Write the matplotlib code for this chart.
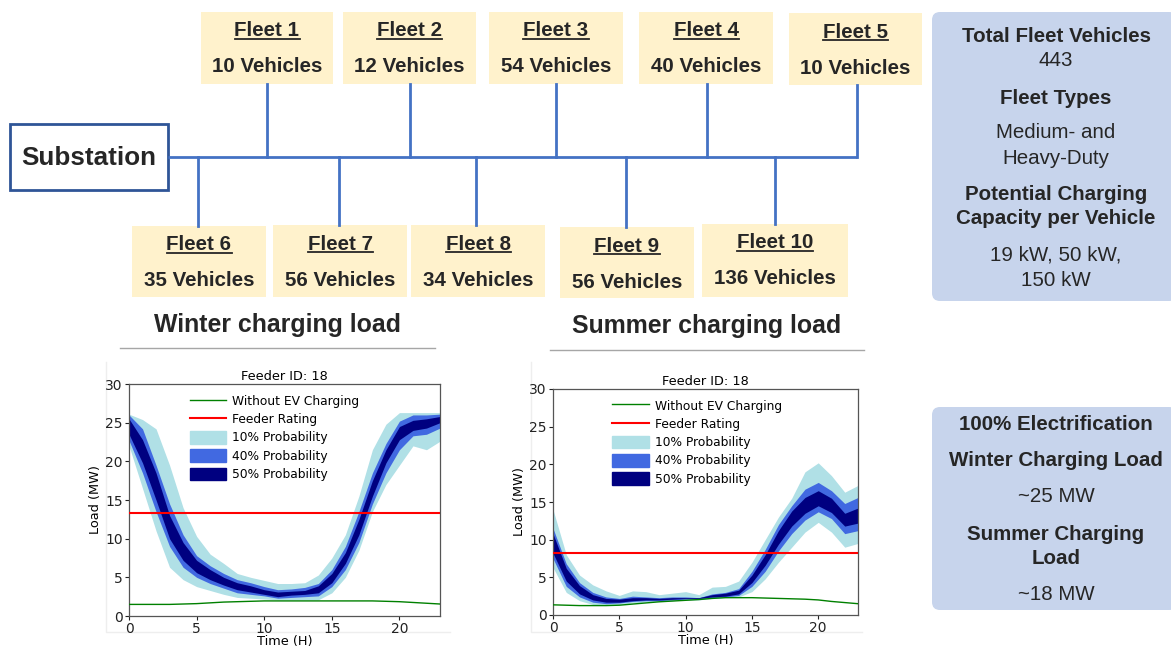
import numpy as np
import matplotlib
matplotlib.use("Agg")
import matplotlib.pyplot as plt
from matplotlib.patches import Rectangle, FancyBboxPatch, Patch
from matplotlib.lines import Line2D

# ---- data ----
fleet_names = ["Fleet 1", "Fleet 2", "Fleet 3", "Fleet 4", "Fleet 5",
               "Fleet 6", "Fleet 7", "Fleet 8", "Fleet 9", "Fleet 10"]
fleet_vehicles = [10, 12, 54, 40, 10, 35, 56, 34, 56, 136]

info_top = [("Total Fleet Vehicles", True), ("443", False), ("Fleet Types", True),
            ("Medium- and", False), ("Heavy-Duty", False), ("Potential Charging", True),
            ("Capacity per Vehicle", True), ("19 kW, 50 kW,", False), ("150 kW", False)]
info_bottom = [("100% Electrification", True), ("Winter Charging Load", True),
               ("~25 MW", False), ("Summer Charging", True), ("Load", True), ("~18 MW", False)]

hours = np.arange(24)

winter_base = [1.5, 1.5, 1.5, 1.5, 1.55, 1.6, 1.7, 1.8, 1.85, 1.9, 1.95, 1.95,
               1.95, 1.95, 1.95, 1.95, 1.95, 1.95, 1.95, 1.9, 1.85, 1.75, 1.65, 1.55]
winter_rating = 13.3
winter_p10_hi = [26.1, 25.4, 24.2, 19.5, 14.0, 10.3, 8.0, 6.8, 5.5, 5.0, 4.6, 4.2,
                 4.2, 4.3, 5.3, 7.5, 10.5, 15.5, 21.5, 24.8, 26.3, 26.3, 26.3, 26.3]
winter_p10_lo = [22.0, 16.5, 11.0, 6.3, 4.7, 3.8, 3.3, 2.8, 2.4, 2.3, 2.2, 2.1,
                 2.1, 2.1, 2.1, 3.0, 5.0, 8.5, 13.5, 17.0, 19.5, 22.0, 21.5, 22.6]
winter_p40_hi = [26.0, 24.2, 19.5, 14.5, 10.5, 7.8, 6.5, 5.5, 4.7, 4.3, 3.8, 3.4,
                 3.5, 3.7, 4.2, 6.0, 9.0, 13.5, 18.5, 22.3, 25.2, 26.0, 26.0, 26.1]
winter_p40_lo = [22.7, 18.5, 13.5, 9.0, 6.3, 5.0, 4.2, 3.6, 3.0, 2.8, 2.6, 2.3,
                 2.4, 2.5, 2.6, 3.8, 6.0, 9.5, 14.5, 18.5, 21.5, 23.3, 23.5, 24.3]
winter_p50_hi = [25.5, 22.8, 18.5, 13.0, 9.5, 7.2, 6.0, 5.0, 4.3, 3.9, 3.4, 3.1,
                 3.2, 3.3, 3.9, 5.5, 8.2, 12.5, 17.5, 21.5, 24.5, 25.3, 25.5, 25.8]
winter_p50_lo = [23.5, 19.8, 15.0, 10.0, 7.2, 5.6, 4.7, 4.0, 3.4, 3.1, 2.8, 2.5,
                 2.7, 2.8, 3.0, 4.3, 6.8, 10.5, 15.5, 19.8, 22.8, 24.0, 24.3, 25.0]

summer_base = [1.35, 1.3, 1.25, 1.25, 1.25, 1.3, 1.45, 1.6, 1.75, 1.85, 1.95, 2.05,
               2.2, 2.3, 2.3, 2.3, 2.25, 2.2, 2.15, 2.1, 2.0, 1.8, 1.65, 1.5]
summer_rating = 8.2
summer_p10_hi = [14.0, 8.0, 5.3, 4.0, 3.2, 2.6, 3.2, 3.1, 2.7, 2.9, 3.1, 2.7,
                 3.7, 3.8, 4.5, 7.0, 10.0, 13.0, 15.5, 19.0, 20.2, 18.5, 16.3, 17.2]
summer_p10_lo = [6.3, 3.0, 1.9, 1.4, 1.3, 1.4, 1.6, 1.7, 1.8, 1.9, 2.0, 2.0,
                 2.2, 2.3, 2.4, 3.1, 4.8, 7.0, 9.0, 11.0, 12.3, 11.0, 9.0, 9.5]
summer_p40_hi = [11.5, 6.8, 4.3, 3.0, 2.4, 2.2, 2.5, 2.4, 2.3, 2.4, 2.4, 2.3,
                 2.8, 3.0, 3.5, 5.8, 8.7, 12.0, 14.5, 16.7, 17.6, 16.5, 14.8, 15.6]
summer_p40_lo = [7.5, 3.8, 2.4, 1.7, 1.5, 1.6, 1.8, 1.9, 1.9, 2.0, 2.1, 2.1,
                 2.3, 2.4, 2.6, 3.8, 5.8, 8.5, 10.8, 12.6, 13.7, 12.8, 10.8, 11.2]
summer_p50_hi = [10.8, 6.2, 3.9, 2.7, 2.2, 2.1, 2.3, 2.3, 2.2, 2.3, 2.3, 2.3,
                 2.7, 2.9, 3.3, 5.3, 8.0, 11.2, 13.8, 15.6, 16.5, 15.5, 13.5, 14.2]
summer_p50_lo = [8.2, 4.5, 2.8, 2.0, 1.7, 1.7, 1.9, 2.0, 2.0, 2.1, 2.2, 2.2,
                 2.4, 2.5, 2.8, 4.3, 6.6, 9.4, 11.8, 13.5, 14.5, 13.6, 11.8, 12.2]

# ---- layout (pixels) ----
W, H = 1171, 652
fleet_boxes = [(201, 12, 333, 84), (343, 12, 476, 84), (489, 12, 623, 84),
               (639, 12, 773, 84), (789, 13, 922, 85),
               (132, 226, 266, 297), (273, 225, 407, 297), (411, 225, 545, 297),
               (560, 227, 694, 298), (702, 224, 848, 297)]
fleet_conn = [267, 410, 556, 707, 857, 198, 339, 476, 626, 775]
bus_y = 157
box_col = "#FFF2CC"
bus_col = "#4472C4"
panel_col = "#C7D4EC"
txt_col = "#262626"
diag_font = "Liberation Sans"

fig = plt.figure(figsize=(W / 100, H / 100), dpi=100)
ax0 = fig.add_axes([0, 0, 1, 1])
ax0.set_xlim(0, W)
ax0.set_ylim(H, 0)
ax0.axis("off")

# substation
ax0.add_patch(Rectangle((10, 124), 158, 66, facecolor="white", edgecolor="#2F5597", lw=2))
ax0.text(89, 158, "Substation", fontsize=18.7, fontweight="bold", color=txt_col,
         family=diag_font, ha="center", va="center")

# bus and connectors
ax0.plot([168, 857], [bus_y, bus_y], color=bus_col, lw=2, solid_capstyle="butt")
titles = []
for i, (x0, y0, x1, y1) in enumerate(fleet_boxes):
    cx = fleet_conn[i]
    if i < 5:
        ax0.plot([cx, cx], [y1, bus_y], color=bus_col, lw=2)
    else:
        ax0.plot([cx, cx], [bus_y, y0], color=bus_col, lw=2)
    ax0.add_patch(Rectangle((x0, y0), x1 - x0, y1 - y0, facecolor=box_col, edgecolor="none"))
    mx = (x0 + x1) / 2
    t = ax0.text(mx, y0 + 19, fleet_names[i], fontsize=14.8, fontweight="bold", color=txt_col,
                 family=diag_font, ha="center", va="center")
    titles.append(t)
    ax0.text(mx, y0 + 55, "%d Vehicles" % fleet_vehicles[i], fontsize=14.8, fontweight="bold",
             color=txt_col, family=diag_font, ha="center", va="center")

# info panels
ax0.add_patch(FancyBboxPatch((932, 12), 245, 289, boxstyle="round,pad=0,rounding_size=8",
                             facecolor=panel_col, edgecolor="none"))
ax0.add_patch(FancyBboxPatch((932, 407), 245, 203, boxstyle="round,pad=0,rounding_size=8",
                             facecolor=panel_col, edgecolor="none"))
for (s, b), y in zip(info_top, [36, 60, 98, 133, 158, 194, 219, 255, 280]):
    ax0.text(1056, y, s, fontsize=14.8, fontweight="bold" if b else "normal", color=txt_col,
             family=diag_font, ha="center", va="center")
for (s, b), y in zip(info_bottom, [425, 461, 497, 534, 558, 594]):
    ax0.text(1056, y, s, fontsize=14.8, fontweight="bold" if b else "normal", color=txt_col,
             family=diag_font, ha="center", va="center")

# section titles
ax0.text(277, 325, "Winter charging load", fontsize=17.9, fontweight="bold", color=txt_col,
         family=diag_font, ha="center", va="center")
ax0.text(707, 326, "Summer charging load", fontsize=17.9, fontweight="bold", color=txt_col,
         family=diag_font, ha="center", va="center")
ax0.plot([120, 435], [348, 348], color="#A6A6A6", lw=1)
ax0.plot([550, 864], [350, 350], color="#A6A6A6", lw=1)

# faint frames of the embedded plots
ax0.plot([106, 106, 450], [362, 632, 632], color="#EEEEEE", lw=1)
ax0.plot([531, 531, 862], [362, 632, 632], color="#EEEEEE", lw=1)

# underline the fleet titles
fig.canvas.draw()
inv = ax0.transData.inverted()
for t in titles:
    bb = t.get_window_extent()
    (ux0, uy), (ux1, _) = inv.transform([(bb.x0, bb.y0 + 2), (bb.x1, bb.y0 + 2)])
    ax0.plot([ux0, ux1], [uy, uy], color=txt_col, lw=1.3)


def draw_chart(ax, base, rating, bands):
    for (lo, hi), c in zip(bands, ["powderblue", "royalblue", "navy"]):
        ax.fill_between(hours, lo, hi, color=c, lw=0, zorder=1)
    ax.plot(hours, base, color="green", lw=1, zorder=3)
    ax.axhline(rating, color="red", lw=1.5, zorder=3)
    ax.set_xlim(0, 23)
    ax.set_ylim(0, 30)
    ax.set_xticks([0, 5, 10, 15, 20])
    ax.set_yticks(np.arange(0, 31, 5))
    ax.tick_params(labelsize=10, length=3, width=0.8, pad=1.5, colors="#222222")
    for sp in ax.spines.values():
        sp.set_color("#555555")
        sp.set_linewidth(0.9)
    ax.set_title("Feeder ID: 18", fontsize=9.3, pad=3)
    ax.set_xlabel("Time (H)", fontsize=9.3, labelpad=-1)
    ax.set_ylabel("Load (MW)", fontsize=9.3, labelpad=2)
    handles = [Line2D([], [], color="green", lw=1), Line2D([], [], color="red", lw=1.5),
               Patch(color="powderblue"), Patch(color="royalblue"), Patch(color="navy")]
    labels = ["Without EV Charging", "Feeder Rating", "10% Probability",
              "40% Probability", "50% Probability"]
    ax.legend(handles, labels, loc="upper left", bbox_to_anchor=(0.195, 0.955), frameon=False,
              fontsize=8.8, handlelength=2.95, handleheight=1.2, labelspacing=0.4,
              handletextpad=0.5, borderpad=0, borderaxespad=0)


ax1 = fig.add_axes([129 / W, 1 - 616 / H, 311 / W, 232 / H])
draw_chart(ax1, winter_base, winter_rating,
           [(winter_p10_lo, winter_p10_hi), (winter_p40_lo, winter_p40_hi),
            (winter_p50_lo, winter_p50_hi)])
ax2 = fig.add_axes([553 / W, 1 - 615 / H, 305 / W, 226 / H])
draw_chart(ax2, summer_base, summer_rating,
           [(summer_p10_lo, summer_p10_hi), (summer_p40_lo, summer_p40_hi),
            (summer_p50_lo, summer_p50_hi)])

fig.savefig("out.png", dpi=100)
